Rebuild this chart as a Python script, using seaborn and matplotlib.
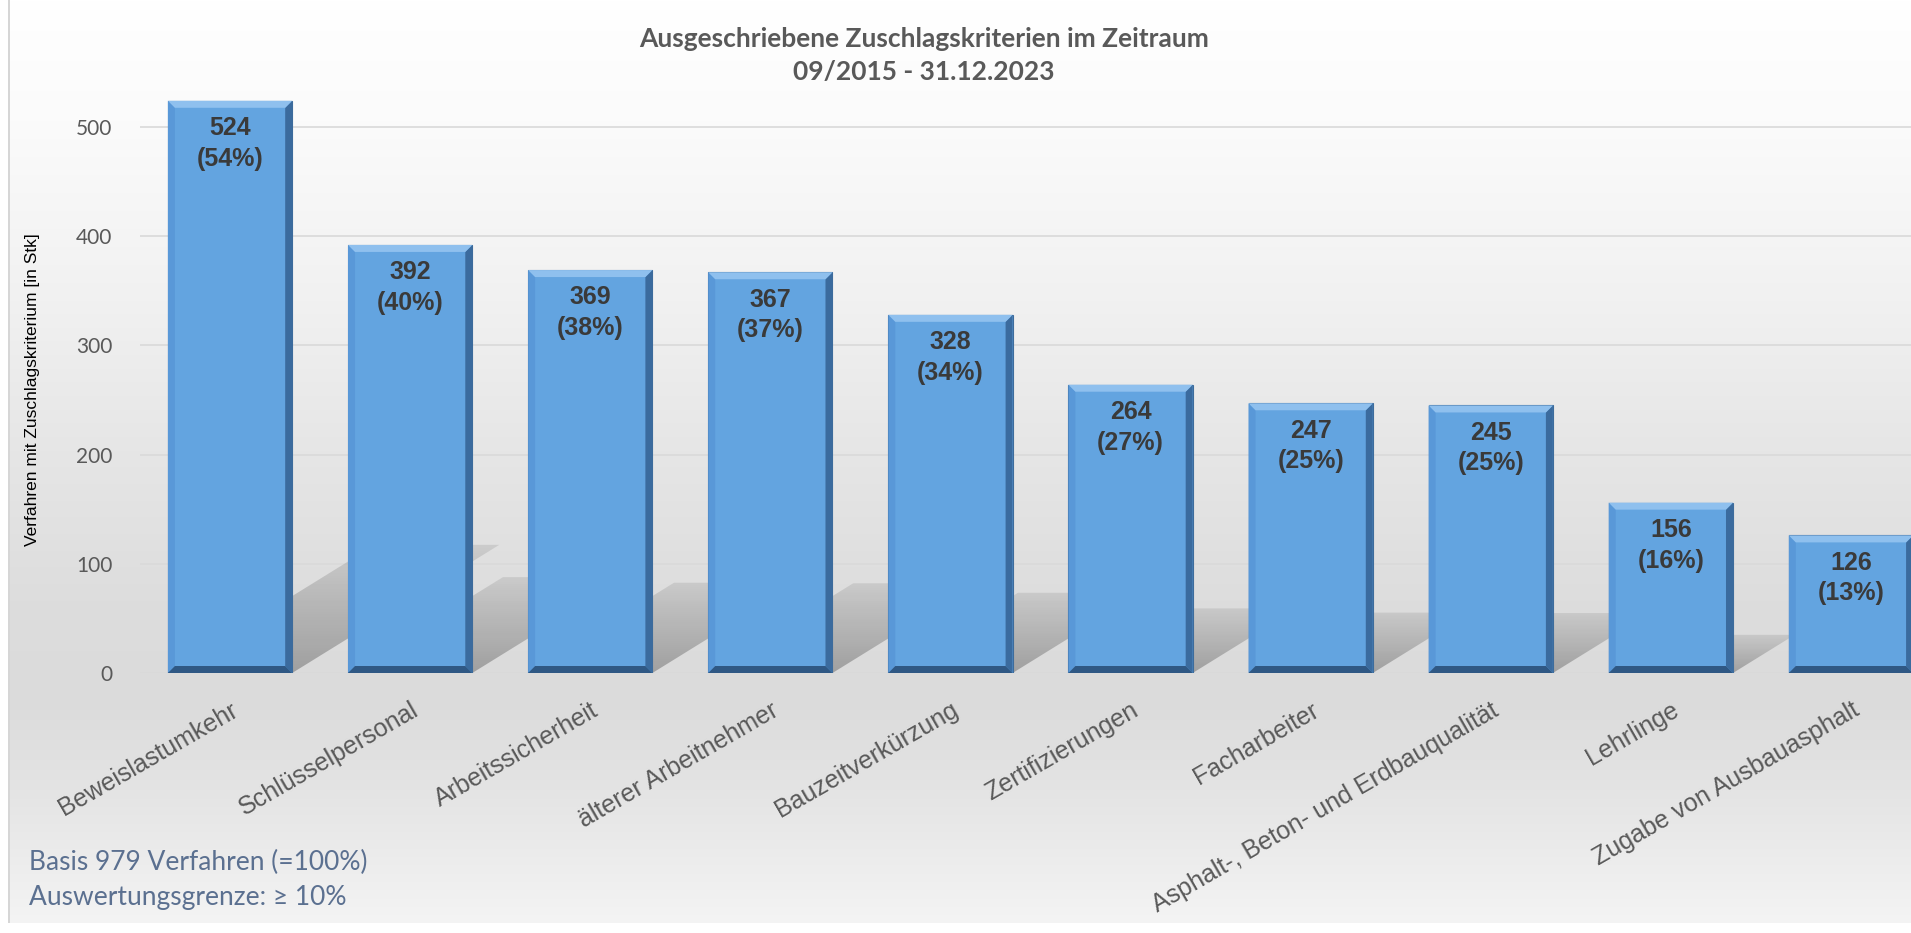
import numpy as np
import pandas as pd
import matplotlib
matplotlib.use("Agg")
import matplotlib.pyplot as plt
import seaborn as sns
from matplotlib.patches import Polygon

# ---- data -------------------------------------------------------------
categories = [
    "Beweislastumkehr",
    "Schlüsselpersonal",
    "Arbeitssicherheit",
    "älterer Arbeitnehmer",
    "Bauzeitverkürzung",
    "Zertifizierungen",
    "Facharbeiter",
    "Asphalt-, Beton- und Erdbauqualität",
    "Lehrlinge",
    "Zugabe von Ausbauasphalt",
]
counts = [524, 392, 369, 367, 328, 264, 247, 245, 156, 126]
shares = [54, 40, 38, 37, 34, 27, 25, 25, 16, 13]
yticks = [0, 100, 200, 300, 400, 500]
title_lines = ["Ausgeschriebene Zuschlagskriterien im Zeitraum", "09/2015 - 31.12.2023"]
y_label = "Verfahren mit Zuschlagskriterium [in Stk]"
notes = ["Basis 979 Verfahren (=100%)", "Auswertungsgrenze: \u2265 10%"]

# ---- styling ----------------------------------------------------------
W, H, DPI = 1911, 933, 100
FACE = "#63a4e0"
TOP = "#8fc0ee"
LEFT = "#5998d8"
RIGHT = "#3b6b9e"
BOTTOM = "#2f5884"
EDGE = "#3d6c9c"
GREY = "#595959"
NOTE = "#5b7090"

sns.set_theme(style="white")
plt.rcParams["font.family"] = ["Liberation Sans", "DejaVu Sans"]

fig = plt.figure(figsize=(W / DPI, H / DPI), dpi=DPI)
fig.patch.set_facecolor("white")

# background panel: soft vertical grey gradient with a thin frame line
bg = fig.add_axes([0, 0, 1, 1], zorder=0)
stops_y = [0, 120, 300, 450, 600, 700, 790, 923]
stops_v = [255, 251, 241, 230, 221, 219, 228, 244]
vals = np.interp(np.arange(H), stops_y, stops_v) / 255.0
img = np.repeat(vals[:, None], W, axis=1)
img[923:, :] = 1.0
img[:, :8] = 1.0
img[:923, 8:10] = 0.84
bg.imshow(np.dstack([img] * 3), extent=(0, W, H, 0), aspect="auto",
          interpolation="bilinear")
bg.set_xlim(0, W)
bg.set_ylim(H, 0)
bg.axis("off")

# main plotting area (category spacing ~180 px, 100 units ~109 px)
left_px, base_px = 140, 673
ymax = 560
px_per_unit = 1.092
ax_h = ymax * px_per_unit
ax = fig.add_axes([left_px / W, (H - base_px) / H, 1 - left_px / W, ax_h / H],
                  zorder=1)
ax.patch.set_alpha(0)

df = pd.DataFrame({"Kriterium": categories, "Verfahren": counts})
sns.barplot(data=df, x="Kriterium", y="Verfahren", color=FACE, saturation=1,
            width=0.69, ax=ax, zorder=3, edgecolor=EDGE, linewidth=0.8)
bars = list(ax.patches)

cat_px = 180.1
px_x = 1.0 / cat_px          # one pixel in category units
px_y = 1.0 / px_per_unit     # one pixel in value units
SH_DX = 1.15 / 524           # shadow shift per value unit (categories)
SH_DY = 0.224                # shadow rise per value unit
bevel = 7

for bar, c, s in zip(bars, counts, shares):
    xl, w, h = bar.get_x(), bar.get_width(), bar.get_height()
    xr = xl + w

    # cast shadow, fading away from the base
    dx, dy = SH_DX * h, SH_DY * h
    shp = Polygon([(xl, 0), (xr, 0), (xr + dx, dy), (xl + dx, dy)],
                  closed=True, facecolor="none", edgecolor="none")
    ax.add_patch(shp)
    rgba = np.zeros((64, 2, 4))
    rgba[..., 3] = np.linspace(0.27, 0.09, 64)[:, None]
    im = ax.imshow(rgba, extent=(xl, xr + dx, 0, dy), origin="lower",
                   aspect="auto", zorder=2, interpolation="bilinear")
    im.set_clip_path(shp)

    # bevelled edges
    tx, ty = bevel * px_x, bevel * px_y
    for pts, col in [
        ([(xl, 0), (xl, h), (xl + tx, h - ty), (xl + tx, ty)], LEFT),
        ([(xr, 0), (xr, h), (xr - tx, h - ty), (xr - tx, ty)], RIGHT),
        ([(xl, h), (xr, h), (xr - tx, h - ty), (xl + tx, h - ty)], TOP),
        ([(xl, 0), (xr, 0), (xr - tx, ty), (xl + tx, ty)], BOTTOM),
    ]:
        ax.add_patch(Polygon(pts, closed=True, facecolor=col,
                             edgecolor="none", zorder=4))

    # value label
    ax.annotate(f"{c}\n({s}%)", xy=(xl + w / 2, h), xytext=(0, -11),
                textcoords="offset points", ha="center", va="top",
                fontsize=18, fontweight="bold", color="#3a3a3a",
                linespacing=1.35, zorder=6)

# axes cosmetics
ax.set_xlim(-0.5, (W - left_px) / cat_px - 0.5)
ax.set_ylim(0, ymax)
ax.set_yticks(yticks)
ax.set_yticklabels([str(t) for t in yticks], family=["Lato", "DejaVu Sans"],
                   fontsize=15, color=GREY)
ax.set_xticks(range(len(categories)))
ax.set_xticklabels(categories, rotation=30, ha="right", va="top",
                   rotation_mode="anchor", fontsize=18, color=GREY)
ax.tick_params(axis="y", length=0, pad=20)
ax.tick_params(axis="x", length=0, pad=18)
ax.yaxis.grid(True, color="#d9d9d9", linewidth=1.2)
ax.xaxis.grid(False)
ax.set_axisbelow(True)
for sp in ax.spines.values():
    sp.set_visible(False)
ax.set_xlabel("")
ax.set_ylabel("")

fig.text(33 / W, 1 - 390 / H, y_label, rotation=90, ha="center", va="center",
         fontsize=12.5, color="black")

# title
fig.text(924 / W, 1 - 39 / H, title_lines[0], ha="center", va="center",
         fontsize=19, fontweight="bold", color=GREY,
         family=["Lato", "DejaVu Sans"])
fig.text(924 / W, 1 - 72 / H, title_lines[1], ha="center", va="center",
         fontsize=19, fontweight="bold", color=GREY,
         family=["Lato", "DejaVu Sans"])

# footnotes
fig.text(29 / W, 1 - 862 / H, notes[0], ha="left", va="center", fontsize=19,
         color=NOTE, family=["Lato", "DejaVu Sans"])
fig.text(29 / W, 1 - 898 / H, notes[1], ha="left", va="center", fontsize=19,
         color=NOTE, family=["Lato", "DejaVu Sans"])

fig.savefig("out.png", dpi=DPI)
